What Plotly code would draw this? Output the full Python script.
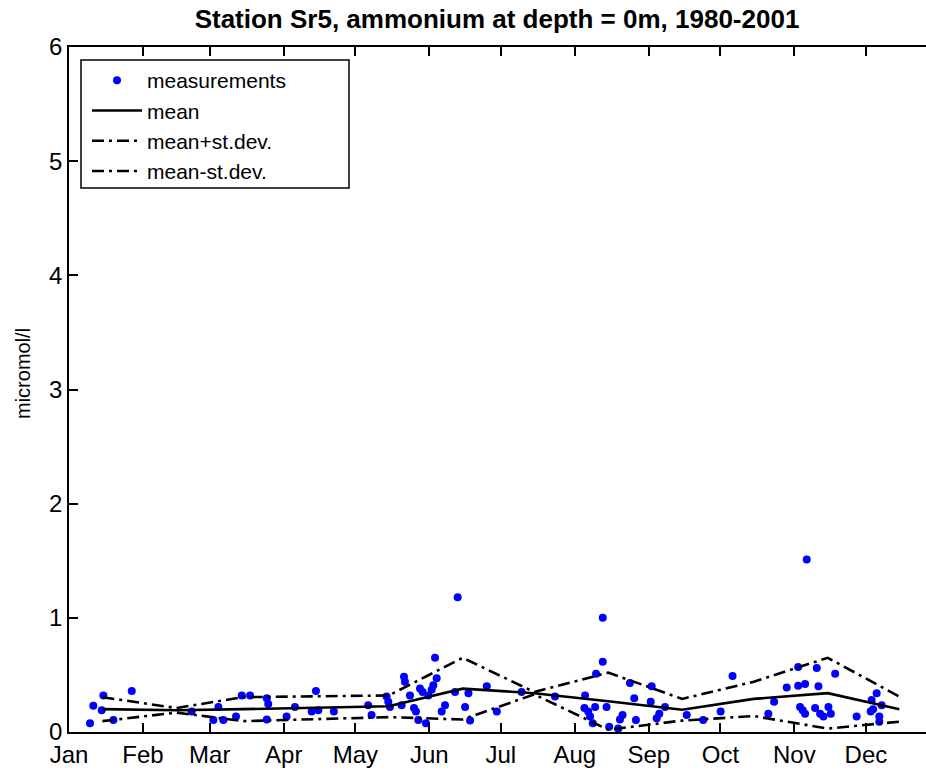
import plotly.graph_objects as go

# ---- data -------------------------------------------------------------
month_labels = ["Jan", "Feb", "Mar", "Apr", "May", "Jun",
                "Jul", "Aug", "Sep", "Oct", "Nov", "Dec"]
month_start_days = [1, 32, 60, 91, 121, 152, 182, 213, 244, 274, 305, 335]

mid_month_days = [15, 46, 74, 105, 135, 166, 196, 227, 258, 288, 319, 349]
monthly_mean = [0.20, 0.19, 0.20, 0.21, 0.225, 0.38, 0.34, 0.27, 0.195, 0.29, 0.34, 0.20]
monthly_std = [0.105, 0.02, 0.105, 0.10, 0.095, 0.27, 0.01, 0.25, 0.095, 0.15, 0.31, 0.11]

meas_day = [9.8, 11.2, 14.7, 15.4, 19.6, 27.3, 52.4, 61.5, 63.6, 65.7,
            71.0, 73.4, 76.9, 83.9, 84.5, 83.9, 92.2, 95.7, 102.7, 104.5,
            105.5, 112.0, 126.4, 127.8, 134.1, 134.8, 135.5, 140.4, 141.4, 141.8,
            143.9, 145.6, 146.4, 147.4, 148.1, 149.2, 150.6, 151.6, 153.0, 153.7,
            154.4, 155.1, 157.2, 158.6, 162.8, 163.9, 167.0, 168.4, 169.1, 176.1,
            180.3, 190.7, 204.7, 217.3, 217.0, 218.6, 219.4, 220.5, 221.5, 221.9,
            224.7, 224.7, 226.3, 227.4, 231.2, 231.9, 233.0, 236.1, 237.9, 238.6,
            245.2, 244.8, 247.3, 248.4, 250.8, 259.9, 266.8, 274.1, 279.1, 294.1,
            296.5, 301.8, 306.6, 307.4, 306.6, 308.5, 309.5, 309.5, 310.2, 313.7,
            314.4, 315.1, 315.8, 317.2, 319.3, 320.3, 322.1, 331.1, 337.0, 337.4,
            339.5, 340.6, 341.6, 340.6, 338.0]
meas_val = [0.076, 0.23, 0.19, 0.32, 0.105, 0.36, 0.18, 0.105, 0.22, 0.105,
            0.135, 0.32, 0.32, 0.295, 0.245, 0.11, 0.135, 0.22, 0.18, 0.36,
            0.19, 0.18, 0.235, 0.15, 0.31, 0.265, 0.22, 0.235, 0.485, 0.44,
            0.32, 0.21, 0.18, 0.105, 0.38, 0.35, 0.076, 0.32, 0.37, 0.41,
            0.65, 0.47, 0.18, 0.235, 0.35, 1.18, 0.22, 0.34, 0.10, 0.40,
            0.18, 0.35, 0.31, 0.32, 0.21, 0.18, 0.135, 0.076, 0.22, 0.51,
            0.615, 1.00, 0.22, 0.046, 0.03, 0.11, 0.15, 0.43, 0.295, 0.105,
            0.40, 0.265, 0.12, 0.16, 0.22, 0.15, 0.105, 0.18, 0.49, 0.16,
            0.265, 0.39, 0.57, 0.22, 0.405, 0.19, 0.42, 0.16, 1.51, 0.21,
            0.56, 0.40, 0.16, 0.135, 0.22, 0.16, 0.51, 0.135, 0.18, 0.28,
            0.34, 0.135, 0.235, 0.09, 0.20]

upper = [m + s for m, s in zip(monthly_mean, monthly_std)]
lower = [m - s for m, s in zip(monthly_mean, monthly_std)]

# ---- figure -----------------------------------------------------------
FONT = "Liberation Sans, Arial, Helvetica, sans-serif"
dashdot = "12px,5px,3px,5px"

fig = go.Figure()
fig.add_trace(go.Scatter(x=meas_day, y=meas_val, mode="markers", name="measurements",
                         marker=dict(color="#0000ff", size=8)))
fig.add_trace(go.Scatter(x=mid_month_days, y=monthly_mean, mode="lines", name="mean",
                         line=dict(color="black", width=2.6)))
fig.add_trace(go.Scatter(x=mid_month_days, y=upper, mode="lines", name="mean+st.dev.",
                         line=dict(color="black", width=2.6, dash=dashdot)))
fig.add_trace(go.Scatter(x=mid_month_days, y=lower, mode="lines", name="mean-st.dev.",
                         line=dict(color="black", width=2.6, dash=dashdot)))

W, H = 926, 771
L, R, T, B = 69, 0, 47, 39
pw, ph = W - L - R, H - T - B

def px_x(p):
    return (p - L) / pw

def px_y(p):
    return 1 - (p - T) / ph

fig.update_layout(
    width=W, height=H,
    margin=dict(l=L, r=R, t=T, b=B, pad=0),
    paper_bgcolor="white", plot_bgcolor="white",
    font=dict(family=FONT, size=24, color="black"),
    title=dict(text="<b>Station Sr5, ammonium at depth = 0m, 1980-2001</b>",
               x=497 / W, xanchor="center", y=1 - 19 / H, yanchor="middle",
               font=dict(size=26, family=FONT, color="black")),
    xaxis=dict(range=[1, 1 + pw / 2.386], tickmode="array",
               tickvals=month_start_days, ticktext=month_labels,
               ticks="inside", ticklen=9, tickwidth=1.5, tickcolor="black",
               showline=True, linecolor="black", linewidth=1.5, mirror="ticks",
               showgrid=False, zeroline=False, automargin=False,
               tickfont=dict(size=24)),
    yaxis=dict(range=[0, 6], tickmode="array", tickvals=[0, 1, 2, 3, 4, 5, 6],
               ticks="inside", ticklen=9, tickwidth=1.5, tickcolor="black",
               showline=True, linecolor="black", linewidth=1.5,
               showgrid=False, zeroline=False, automargin=False,
               tickfont=dict(size=24)),
    legend=dict(x=px_x(87), y=px_y(60), xanchor="left", yanchor="top",
                bgcolor="rgba(0,0,0,0)", borderwidth=0, itemwidth=50,
                font=dict(size=21), tracegroupgap=0),
    showlegend=True,
    shapes=[dict(type="rect", xref="paper", yref="paper",
                 x0=px_x(81), x1=px_x(349), y0=px_y(188), y1=px_y(60),
                 line=dict(color="black", width=1.5), fillcolor="white",
                 layer="above")],
    annotations=[dict(text="micromol/l", xref="paper", yref="paper",
                      x=-(L - 23) / pw, y=px_y(374), xanchor="center", yanchor="middle",
                      textangle=-90, showarrow=False, font=dict(size=20))],
)

fig.write_html("out.html", config={"displayModeBar": False})

# remove the browser's default 8px body margin so the figure sits at (0, 0)
with open("out.html", "r", encoding="utf-8") as f:
    html = f.read()
html = html.replace("<body>", '<body style="margin:0;padding:0;overflow:hidden">', 1)
with open("out.html", "w", encoding="utf-8") as f:
    f.write(html)
